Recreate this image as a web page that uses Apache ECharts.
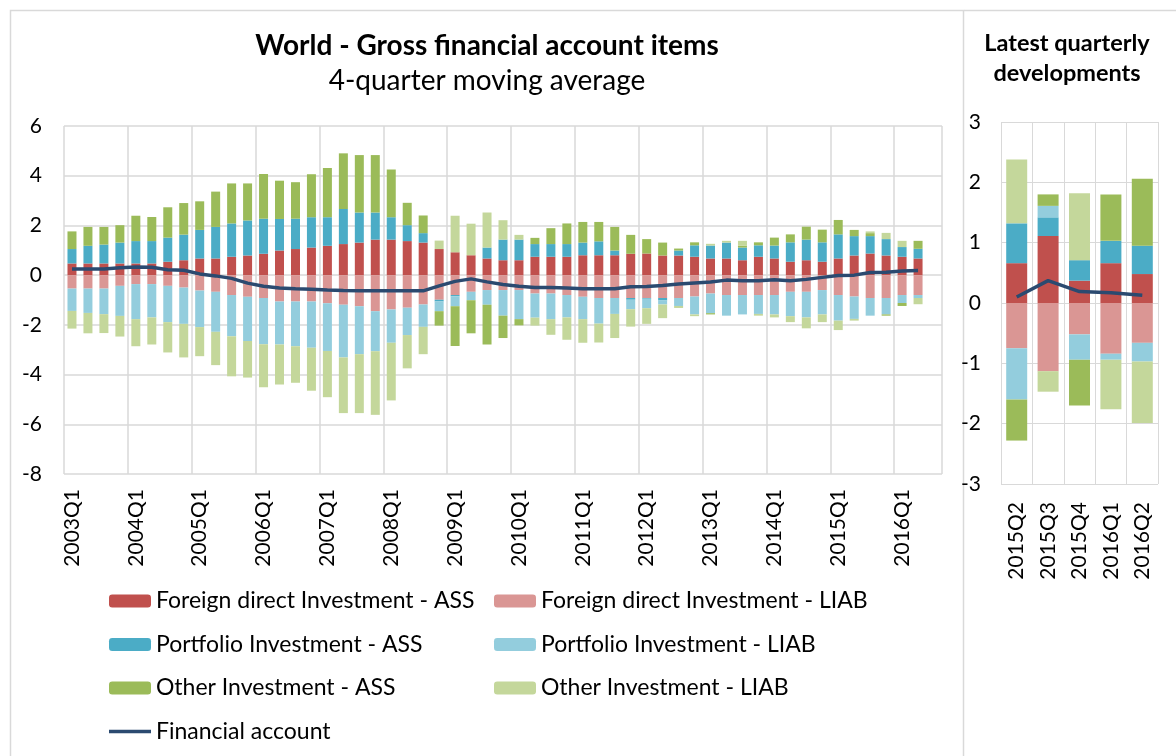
<!DOCTYPE html>
<html>
<head>
<meta charset="utf-8">
<script src="https://cdn.jsdelivr.net/npm/echarts@6/dist/echarts.min.js"></script>
<style>
  html, body { margin: 0; padding: 0; background: #fff; }
  #chart { width: 1176px; height: 756px; }
</style>
</head>
<body>
<div id="chart"></div>
<script>
// Quarters 2003Q1 .. 2016Q2 (plus one empty slot at the end, as in the source)
const quarters = [];
for (let y = 2003; y <= 2016; y++) {
  for (let q = 1; q <= 4; q++) {
    if (y === 2016 && q > 2) break;
    quarters.push(y + 'Q' + q);
  }
}
quarters.push('');

// 4-quarter moving averages
const fdiAss = [
  0.47, 0.47, 0.47, 0.47,  0.47, 0.47, 0.54, 0.60,  0.67, 0.67, 0.74, 0.79,
  0.86, 0.99, 1.05, 1.11,  1.18, 1.25, 1.31, 1.43,  1.43, 1.37, 1.31, 1.05,
  0.92, 0.80, 0.67, 0.60,  0.60, 0.74, 0.74, 0.74,  0.80, 0.80, 0.80, 0.86,
  0.87, 0.79, 0.79, 0.74,  0.67, 0.67, 0.60, 0.74,  0.67, 0.54, 0.60, 0.54,
  0.67, 0.79, 0.87, 0.79,  0.74, 0.67
];
const fdiLiab = [
  -0.54, -0.54, -0.54, -0.43,  -0.36, -0.36, -0.43, -0.50,  -0.62, -0.67, -0.80, -0.87,
  -0.92, -1.06, -1.06, -1.06,  -1.13, -1.19, -1.25, -1.45,  -1.38, -1.31, -1.18, -0.99,
  -0.80, -0.67, -0.60, -0.60,  -0.60, -0.74, -0.74, -0.80,  -0.87, -0.92, -0.92, -0.92,
  -0.92, -0.92, -0.92, -0.86,  -0.74, -0.80, -0.80, -0.80,  -0.80, -0.67, -0.67, -0.60,
  -0.80, -0.86, -0.92, -0.92,  -0.80, -0.80
];
const piAss = [
  0.58, 0.71, 0.76, 0.84,  0.90, 0.90, 0.97, 1.03,  1.15, 1.27, 1.34, 1.41,
  1.41, 1.27, 1.22, 1.22,  1.15, 1.41, 1.21, 1.09,  0.90, 0.64, 0.38, -0.07,
  -0.05, 0.00, 0.44, 0.83,  0.83, 0.51, 0.51, 0.51,  0.51, 0.56, 0.19, -0.07,
  -0.03, -0.10, 0.20, 0.46,  0.52, 0.64, 0.51, 0.46,  0.52, 0.78, 0.83, 0.78,
  0.97, 0.78, 0.70, 0.66,  0.39, 0.39
];
const piLiab = [
  -0.90, -0.98, -1.03, -1.21,  -1.41, -1.34, -1.46, -1.46,  -1.47, -1.61, -1.66, -1.78,
  -1.86, -1.73, -1.80, -1.86,  -1.92, -2.12, -1.93, -1.61,  -1.34, -1.10, -0.90, -0.39,
  -0.40, -0.34, -0.59, -1.03,  -1.17, -0.97, -1.03, -0.90,  -0.90, -1.03, -0.64, -0.38,
  -0.38, -0.16, -0.32, -0.72,  -0.79, -0.83, -0.78, -0.76,  -0.78, -0.98, -1.03, -0.98,
  -1.03, -0.90, -0.71, -0.66,  -0.32, -0.12
];
const oiAss = [
  0.71, 0.76, 0.71, 0.70,  1.02, 0.97, 1.22, 1.27,  1.15, 1.42, 1.61, 1.49,
  1.80, 1.54, 1.47, 1.73,  1.98, 2.24, 2.31, 2.31,  1.92, 0.90, 0.71, -0.58,
  -1.60, -1.33, -1.60, -0.90,  -0.25, 0.25, 0.64, 0.83,  0.83, 0.78, 0.95, 0.76,
  0.58, 0.52, 0.08, 0.12,  -0.05, 0.00, 0.07, 0.12,  0.32, 0.32, 0.52, 0.51,
  0.58, 0.25, 0.12, -0.05,  -0.12, 0.32
];
const oiLiab = [
  -0.71, -0.82, -0.76, -0.83,  -1.09, -1.09, -1.22, -1.35,  -1.17, -1.34, -1.61, -1.47,
  -1.73, -1.61, -1.47, -1.73,  -1.86, -2.24, -2.37, -2.56,  -2.32, -1.34, -1.10, 0.34,
  1.47, 1.27, 1.41, 0.78,  0.19, -0.32, -0.63, -0.90,  -0.95, -0.76, -0.97, -0.70,
  -0.63, -0.55, -0.08, -0.07,  0.07, 0.07, 0.20, -0.07,  -0.12, -0.24, -0.44, -0.31,
  -0.38, -0.07, 0.07, 0.25,  0.25, -0.25
];
const finAccount = [
  0.25, 0.25, 0.25, 0.30,  0.33, 0.32, 0.22, 0.20,  0.05, -0.03, -0.13, -0.32,
  -0.45, -0.52, -0.55, -0.57,  -0.60, -0.62, -0.63, -0.63,  -0.63, -0.63, -0.63, -0.43,
  -0.25, -0.15, -0.27, -0.38,  -0.45, -0.50, -0.50, -0.52,  -0.55, -0.55, -0.55, -0.47,
  -0.46, -0.42, -0.36, -0.32,  -0.28, -0.20, -0.23, -0.23,  -0.19, -0.23, -0.17, -0.09,
  -0.01, 0.00, 0.11, 0.12,  0.17, 0.19
];

// Latest quarterly developments
const latestQuarters = ['2015Q2', '2015Q3', '2015Q4', '2016Q1', '2016Q2'];
const latestFdiAss   = [0.66, 1.11, 0.37, 0.66, 0.48];
const latestFdiLiab  = [-0.75, -1.13, -0.52, -0.84, -0.66];
const latestPiAss    = [0.66, 0.31, 0.34, 0.37, 0.47];
const latestPiLiab   = [-0.85, 0.19, -0.42, -0.10, -0.31];
const latestOiAss    = [-0.68, 0.19, -0.76, 0.77, 1.11];
const latestOiLiab   = [1.06, -0.34, 1.11, -0.82, -1.02];
const latestFinAcc   = [0.10, 0.37, 0.19, 0.17, 0.13];

const NAMES = [
  'Foreign direct Investment - ASS', 'Foreign direct Investment - LIAB',
  'Portfolio Investment - ASS', 'Portfolio Investment - LIAB',
  'Other Investment - ASS', 'Other Investment - LIAB',
];
const LINE_NAME = 'Financial account';
const COLORS = ['#C0504D', '#DA9694', '#4BACC6', '#93CDDD', '#9BBB59', '#C4D79B'];
const LINE_COLOR = '#2B4A70';
const GRID_COLOR = '#D9D9D9';
const FONT = 'Lato, "Open Sans", sans-serif';

const mainData = [fdiAss, fdiLiab, piAss, piLiab, oiAss, oiLiab];
const latestData = [latestFdiAss, latestFdiLiab, latestPiAss, latestPiLiab, latestOiAss, latestOiLiab];

const barSeries = (data, idx, axisIdx, stack, width) => ({
  name: NAMES[idx],
  type: 'bar',
  stack,
  xAxisIndex: axisIdx,
  yAxisIndex: axisIdx,
  barWidth: width,
  data,
  itemStyle: { color: COLORS[idx] },
  emphasis: { disabled: true },
});

const lineSeries = (data, axisIdx) => ({
  name: LINE_NAME,
  type: 'line',
  xAxisIndex: axisIdx,
  yAxisIndex: axisIdx,
  data,
  symbol: 'none',
  showSymbol: false,
  z: 5,
  lineStyle: { color: LINE_COLOR, width: 3.5 },
  itemStyle: { color: LINE_COLOR },
});

const axisText = { color: '#000', fontSize: 21, fontFamily: FONT };
const legendText = { color: '#000', fontSize: 23, fontFamily: FONT, lineHeight: 24 };

const chart = echarts.init(document.getElementById('chart'));

chart.setOption({
  backgroundColor: '#FFFFFF',
  animation: false,
  textStyle: { fontFamily: FONT },
  grid: [
    { left: 64, right: 234, top: 126, bottom: 282 },
    { left: 1001, right: 18, top: 122, bottom: 272 },
  ],
  xAxis: [
    {
      gridIndex: 0,
      type: 'category',
      data: quarters,
      axisLine: { show: false },
      axisTick: { show: false },
      axisLabel: { ...axisText, rotate: 90, interval: 3, margin: 15 },
      splitLine: { show: true, interval: 3, lineStyle: { color: GRID_COLOR, width: 1.5 } },
    },
    {
      gridIndex: 1,
      type: 'category',
      data: latestQuarters,
      axisLine: { show: false },
      axisTick: { show: false },
      axisLabel: { ...axisText, rotate: 90, interval: 0, margin: 18 },
      splitLine: { show: true, lineStyle: { color: GRID_COLOR, width: 1 } },
    },
  ],
  yAxis: [
    {
      gridIndex: 0,
      type: 'value',
      min: -8, max: 6, interval: 2,
      axisLine: { show: false },
      axisTick: { show: false },
      axisLabel: { ...axisText, margin: 22 },
      splitLine: { lineStyle: { color: GRID_COLOR, width: 1.5 } },
    },
    {
      gridIndex: 1,
      type: 'value',
      min: -3, max: 3, interval: 1,
      axisLine: { show: false },
      axisTick: { show: false },
      axisLabel: { ...axisText, margin: 20 },
      splitLine: { lineStyle: { color: GRID_COLOR, width: 1 } },
    },
  ],
  legend: [
    {
      orient: 'vertical',
      left: 104, top: 584,
      itemWidth: 42, itemHeight: 13, itemGap: 19.5,
      textStyle: legendText,
      data: [
        NAMES[0], NAMES[2], NAMES[4],
        { name: LINE_NAME, icon: 'path://M0,0 L42,0 L42,3.5 L0,3.5 Z' },
      ],
      selectedMode: false,
    },
    {
      orient: 'vertical',
      left: 489, top: 584,
      itemWidth: 42, itemHeight: 13, itemGap: 19.5,
      textStyle: legendText,
      data: [NAMES[1], NAMES[3], NAMES[5]],
      selectedMode: false,
    },
  ],
  graphic: [
    { type: 'rect', silent: true, shape: { x: 10.5, y: 10.5, width: 953, height: 800 },
      style: { fill: 'none', stroke: GRID_COLOR, lineWidth: 1.5 } },
    { type: 'line', silent: true, shape: { x1: 964, y1: 10.5, x2: 1176, y2: 10.5 },
      style: { stroke: GRID_COLOR, lineWidth: 1.5 } },
    { type: 'text', silent: true, x: 487, y: 46,
      style: { text: 'World - Gross financial account items', fill: '#000',
        font: 'bold 28px ' + FONT, textAlign: 'center', textVerticalAlign: 'middle' } },
    { type: 'text', silent: true, x: 487, y: 81,
      style: { text: '4-quarter moving average', fill: '#000',
        font: '28px ' + FONT, textAlign: 'center', textVerticalAlign: 'middle' } },
    { type: 'text', silent: true, x: 1067, y: 43,
      style: { text: 'Latest quarterly', fill: '#000',
        font: 'bold 23.5px ' + FONT, textAlign: 'center', textVerticalAlign: 'middle' } },
    { type: 'text', silent: true, x: 1067, y: 73,
      style: { text: 'developments', fill: '#000',
        font: 'bold 23.5px ' + FONT, textAlign: 'center', textVerticalAlign: 'middle' } },
  ],
  series: [
    ...mainData.map((d, i) => barSeries(d, i, 0, 'main', 9)),
    lineSeries(finAccount, 0),
    ...latestData.map((d, i) => barSeries(d, i, 1, 'latest', 21)),
    lineSeries(latestFinAcc, 1),
  ],
});

window.addEventListener('resize', () => chart.resize());
</script>
</body>
</html>
